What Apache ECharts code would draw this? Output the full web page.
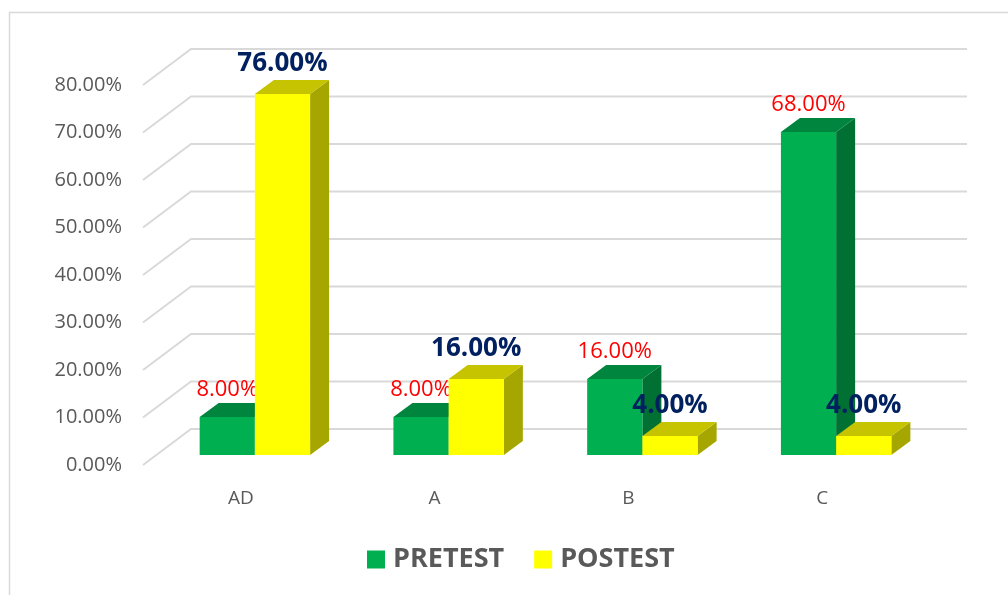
<!DOCTYPE html>
<html>
<head>
<meta charset="utf-8">
<script src="https://cdn.jsdelivr.net/npm/echarts@6/dist/echarts.min.js"></script>
<style>
  html, body { margin: 0; padding: 0; background: #fff; }
  #chart { width: 1008px; height: 595px; }
</style>
</head>
<body>
<div id="chart"></div>
<script>
  const categories = ["AD", "A", "B", "C"]
  const pretest = [8, 8, 16, 68]
  const postest = [76, 16, 4, 4]
  const yTicks = [0, 10, 20, 30, 40, 50, 60, 70, 80]

  const FONT = "Open Sans"

  // 3d offsets (px)
  const barShift = [14, -10]
  const barDepth = [19, -14]
  const wallDepth = [47, -36]

  function gridLines(params, api) {
    let cs = params.coordSys
    let y = api.coord([0, api.value(0)])[1]
    return {
      type: "polyline",
      shape: {
        points: [
          [cs.x - 1, y],
          [cs.x + wallDepth[0], y + wallDepth[1]],
          [cs.x + cs.width + wallDepth[0] + 1, y + wallDepth[1]]
        ]
      },
      style: { stroke: "#D9D9D9", lineWidth: 2, fill: null },
      silent: true
    }
  }

  function barMaker(side, front, top, right, label) {
    return function (params, api) {
      let c = api.coord([api.value(0), api.value(1)])
      let base = api.coord([api.value(0), 0])
      let band = api.size([1, 0])[0]
      let w = band * 0.285
      let x0 = c[0] + barShift[0] + (side < 0 ? -w : 0)
      let x1 = x0 + w
      let yt = c[1] + barShift[1]
      let yb = base[1] + barShift[1]
      let dx = barDepth[0], dy = barDepth[1]
      return {
        type: "group",
        children: [
          {
            type: "polygon",
            shape: { points: [[x1, yt], [x1 + dx, yt + dy], [x1 + dx, yb + dy], [x1, yb]] },
            style: { fill: right }
          },
          {
            type: "rect",
            shape: { x: x0, y: yt, width: w, height: yb - yt },
            style: { fill: front }
          },
          {
            type: "polygon",
            shape: { points: [[x0, yt], [x0 + dx, yt + dy], [x1 + dx, yt + dy], [x1, yt]] },
            style: { fill: top }
          },
          {
            type: "text",
            z2: 10,
            style: {
              text: api.value(1).toFixed(2) + "%",
              x: x0 + w / 2,
              y: yt + dy - label.gap,
              align: "center",
              verticalAlign: "middle",
              fill: label.color,
              fontSize: label.size,
              fontWeight: label.weight,
              fontFamily: FONT
            }
          }
        ]
      }
    }
  }

  let myChart = echarts.init(document.getElementById("chart"))
  myChart.setOption({
    animation: false,
    graphic: [
      {
        type: "rect",
        shape: { x: 9.5, y: 12.5, width: 1010, height: 600 },
        style: { fill: null, stroke: "#D9D9D9", lineWidth: 1.5 },
        silent: true
      }
    ],
    legend: {
      left: 362,
      top: 541,
      itemWidth: 18,
      itemHeight: 18,
      itemGap: 30,
      icon: "rect",
      textStyle: { color: "#595959", fontSize: 27, fontWeight: "bold", fontFamily: FONT, padding: [0, 0, 0, 3] },
      data: ["PRETEST", "POSTEST"]
    },
    grid: {
      left: 144,
      right: 89,
      top: 85,
      bottom: 130
    },
    xAxis: {
      type: "category",
      data: categories,
      axisLine: { show: false },
      axisTick: { show: false },
      axisLabel: { color: "#595959", fontSize: 19, fontFamily: FONT, margin: 24 }
    },
    yAxis: {
      type: "value",
      min: 0,
      max: 80,
      interval: 10,
      splitLine: { show: false },
      axisLine: { show: false },
      axisTick: { show: false },
      axisLabel: {
        color: "#595959",
        fontSize: 20,
        fontFamily: FONT,
        margin: 22,
        formatter: function (v) { return v.toFixed(2) + "%" }
      }
    },
    series: [
      {
        name: "grid",
        type: "custom",
        renderItem: gridLines,
        data: yTicks.map(v => [v]),
        encode: { y: 0 },
        z: 1,
        silent: true
      },
      {
        name: "PRETEST",
        type: "custom",
        itemStyle: { color: "#00B050" },
        renderItem: barMaker(-1, "#00B050", "#00853E", "#007033",
          { color: "#FF0000", size: 22, weight: "normal", gap: 13 }),
        data: categories.map((c, i) => [i, pretest[i]]),
        encode: { x: 0, y: 1 },
        z: 2
      },
      {
        name: "POSTEST",
        type: "custom",
        itemStyle: { color: "#FFFF00" },
        renderItem: barMaker(1, "#FFFF00", "#C6C300", "#A6A600",
          { color: "#002060", size: 26, weight: "bold", gap: 16 }),
        data: categories.map((c, i) => [i, postest[i]]),
        encode: { x: 0, y: 1 },
        z: 3
      }
    ]
  })
</script>
</body>
</html>
